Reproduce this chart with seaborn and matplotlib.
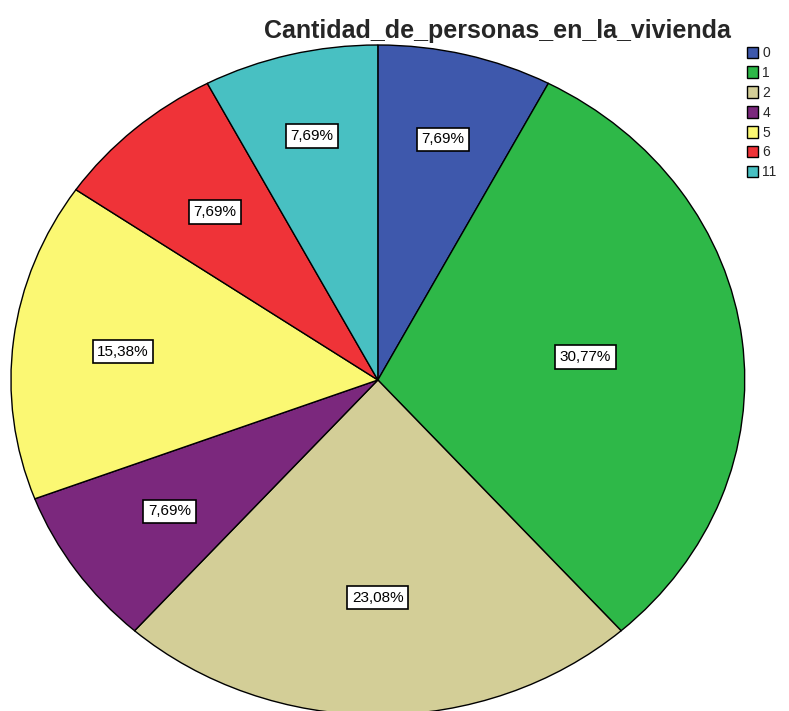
import matplotlib
matplotlib.use("Agg")
import matplotlib.pyplot as plt
import seaborn as sns
from matplotlib.patches import Patch

# Data
categories = ["0", "1", "2", "4", "5", "6", "11"]
counts = [1, 4, 3, 1, 2, 1, 1]
colors = ["#3E58AC", "#2EB848", "#D3CE97", "#7B287D", "#FBF873", "#EF3338", "#48C0C2"]

# where each percentage label sits, as a fraction of the radius
label_dist = [0.74, 0.57, 0.65, 0.69, 0.70, 0.67, 0.75]

sns.set_style("white")
plt.rcParams["font.family"] = ["Liberation Sans", "DejaVu Sans"]

fig = plt.figure(figsize=(7.89, 7.11), dpi=100)
ax = fig.add_axes([0.0139, -0.0056, 0.930, 0.9423])

wedges, texts, autotexts = ax.pie(
    counts,
    colors=colors,
    startangle=90,
    counterclock=False,
    radius=1,
    autopct=lambda p: f"{p:.2f}%".replace(".", ","),
    pctdistance=0.68,
    wedgeprops=dict(edgecolor="black", linewidth=1),
    textprops=dict(fontsize=11, color="black"),
)

# move labels to their per-slice distance
for t, d in zip(autotexts, label_dist):
    x, y = t.get_position()
    r = (x ** 2 + y ** 2) ** 0.5
    t.set_position((x / r * d, y / r * d))
    t.set_bbox(dict(boxstyle="square,pad=0.3", facecolor="white", edgecolor="black", linewidth=1.2))

ax.set_aspect("auto")
ax.set_xlim(-1, 1)
ax.set_ylim(-1, 1)
ax.axis("off")

fig.text(0.630, 0.956, "Cantidad_de_personas_en_la_vivienda", ha="center", va="center",
         fontsize=18, fontweight="bold")

handles = [Patch(facecolor=c, edgecolor="black", linewidth=1) for c in colors]
fig.legend(handles, categories, loc="upper left", bbox_to_anchor=(0.947, 0.935),
           frameon=False, fontsize=10, handlelength=0.8, handleheight=0.9,
           handletextpad=0.3, labelspacing=0.42, borderpad=0, borderaxespad=0)

fig.savefig("out.png", dpi=100)
